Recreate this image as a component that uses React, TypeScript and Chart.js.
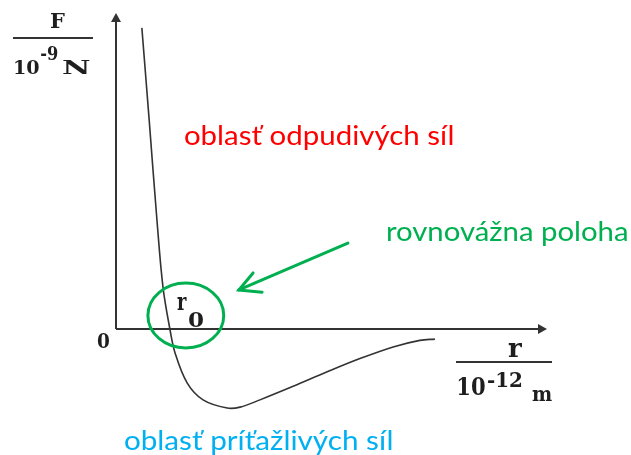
import React, { useEffect, useRef } from "react";
import { Chart, registerables } from "chart.js";

Chart.register(...registerables);

// Force curve F(r) (r in axis units, F in axis units)
const rValues = [0.6, 0.77, 0.95, 1.09, 1.25, 1.37, 1.65, 2.02, 2.58, 2.88, 3.34, 4.11, 4.9, 5.66, 6.43, 7.05, 7.4];
const fValues = [9.56, 6.63, 3.46, 1.33, 0.0, -0.76, -1.71, -2.25, -2.51, -2.48, -2.25, -1.82, -1.36, -0.94, -0.57, -0.36, -0.32];

const xRange = [0, 10];
const yRange = [-2.73, 10];

const repulsiveLabel = "oblasť odpudivých síl";
const attractiveLabel = "oblasť príťažlivých síl";
const equilibriumLabel = "rovnovážna poloha";
const originLabel = "0";

const App: React.FC = () => {
  const ref = useRef<HTMLCanvasElement | null>(null);

  useEffect(() => {
    if (!ref.current) return;
    const serif = "'DejaVu Serif', 'Liberation Serif', serif";
    const sans = "Lato, 'Noto Sans', sans-serif";

    const overlay = {
      id: "overlay",
      beforeDatasetsDraw(chart: any) {
        const { ctx, chartArea, scales } = chart;
        const xs = scales.x;
        const ys = scales.y;
        const x0 = xs.getPixelForValue(0);
        const y0 = ys.getPixelForValue(0);
        ctx.save();
        ctx.strokeStyle = "#333";
        ctx.fillStyle = "#333";
        ctx.lineWidth = 2;
        // y axis
        ctx.beginPath();
        ctx.moveTo(x0, y0);
        ctx.lineTo(x0, chartArea.top + 6);
        ctx.stroke();
        ctx.beginPath();
        ctx.moveTo(x0, chartArea.top - 1);
        ctx.lineTo(x0 - 5, chartArea.top + 8);
        ctx.lineTo(x0 + 5, chartArea.top + 8);
        ctx.closePath();
        ctx.fill();
        // x axis
        ctx.beginPath();
        ctx.moveTo(x0, y0);
        ctx.lineTo(chartArea.right - 6, y0);
        ctx.stroke();
        ctx.beginPath();
        ctx.moveTo(chartArea.right, y0);
        ctx.lineTo(chartArea.right - 9, y0 - 5);
        ctx.lineTo(chartArea.right - 9, y0 + 5);
        ctx.closePath();
        ctx.fill();
        ctx.restore();
      },
      afterDraw(chart: any) {
        const { ctx, scales } = chart;
        const X = (v: number) => scales.x.getPixelForValue(v);
        const Y = (v: number) => scales.y.getPixelForValue(v);

        // draws text so that its ink spans [x1, x2] (data units) on the given baseline
        const fit = (text: string, x1: number, x2: number, base: number, font: string, color: string) => {
          ctx.save();
          ctx.font = font;
          ctx.fillStyle = color;
          ctx.textAlign = "left";
          ctx.textBaseline = "alphabetic";
          const m = ctx.measureText(text);
          const ink = m.actualBoundingBoxLeft + m.actualBoundingBoxRight;
          const target = X(x2) - X(x1);
          ctx.translate(X(x1), Y(base));
          ctx.scale(target / ink, 1);
          ctx.fillText(text, m.actualBoundingBoxLeft, 0);
          ctx.restore();
        };

        const ink = "#1e1e1e";
        ctx.save();
        ctx.strokeStyle = "#333";
        ctx.lineWidth = 2;

        // origin label
        fit(originLabel, -0.441, -0.162, -0.603, `bold 20px ${serif}`, ink);

        // F / 10^-9 N
        fit("F", -1.531, -1.183, 9.556, `bold 21px ${serif}`, ink);
        ctx.beginPath();
        ctx.moveTo(X(-2.39), Y(9.238));
        ctx.lineTo(X(-0.534), Y(9.238));
        ctx.stroke();
        fit("10", -2.343, -1.787, 8.095, `bold 18px ${serif}`, ink);
        fit("-9", -1.74, -1.346, 8.54, `bold 19px ${serif}`, ink);
        fit("N", -1.253, -0.603, 8.095, `bold 19px ${serif}`, ink);

        // r / 10^-12 m
        fit("r", 9.095, 9.42, -0.889, `bold 26px ${serif}`, ink);
        ctx.beginPath();
        ctx.moveTo(X(7.889), Y(-1.048));
        ctx.lineTo(X(10.116), Y(-1.048));
        ctx.stroke();
        fit("10", 7.935, 8.561, -2.095, `bold 24px ${serif}`, ink);
        fit("-12", 8.631, 9.42, -1.841, `bold 20px ${serif}`, ink);
        fit("m", 9.652, 10.116, -2.286, `bold 21px ${serif}`, ink);

        // r0 label
        fit("r", 1.415, 1.647, 0.603, `bold 25px ${serif}`, ink);
        fit("0", 1.671, 2.019, 0.063, `bold 20px ${serif}`, ink);

        // green ellipse
        ctx.strokeStyle = "#00b050";
        ctx.lineWidth = 3;
        ctx.beginPath();
        ctx.ellipse(X(1.62), Y(0.43), X(0.88) - X(0), Y(0) - Y(1.03), 0, 0, Math.PI * 2);
        ctx.stroke();

        // green arrow
        const tipX = X(2.85), tipY = Y(1.24);
        ctx.lineCap = "round";
        ctx.beginPath();
        ctx.moveTo(X(5.38), Y(2.73));
        ctx.lineTo(tipX, tipY);
        ctx.stroke();
        ctx.beginPath();
        ctx.moveTo(X(3.18), Y(1.78));
        ctx.lineTo(tipX, tipY);
        ctx.lineTo(X(3.39), Y(1.17));
        ctx.stroke();
        ctx.restore();

        // region labels
        fit(repulsiveLabel, 1.601, 7.819, 5.841, `27px ${sans}`, "#ff0000");
        fit(equilibriumLabel, 6.288, 11.856, 2.794, `27px ${sans}`, "#00b050");
        fit(attractiveLabel, 0.209, 6.404, -3.841, `27px ${sans}`, "#00b0f0");
      },
    };

    const chart = new Chart(ref.current, {
      type: "line",
      data: {
        datasets: [
          {
            data: rValues.map((r, i) => ({ x: r, y: fValues[i] })),
            borderColor: "#333",
            borderWidth: 1.6,
            pointRadius: 0,
            tension: 0.35,
            fill: false,
          },
        ],
      },
      options: {
        animation: false,
        responsive: true,
        maintainAspectRatio: false,
        layout: { padding: { left: 116, right: 84, top: 14, bottom: 40 } },
        plugins: { legend: { display: false }, tooltip: { enabled: false } },
        scales: {
          x: { type: "linear", min: xRange[0], max: xRange[1], display: false },
          y: { type: "linear", min: yRange[0], max: yRange[1], display: false },
        },
      },
      plugins: [overlay],
    });
    return () => chart.destroy();
  }, []);

  return (
    <div style={{ position: "absolute", left: 0, top: 0, width: 631, height: 455, background: "#fff" }}>
      <canvas ref={ref} />
    </div>
  );
};

export default App;
